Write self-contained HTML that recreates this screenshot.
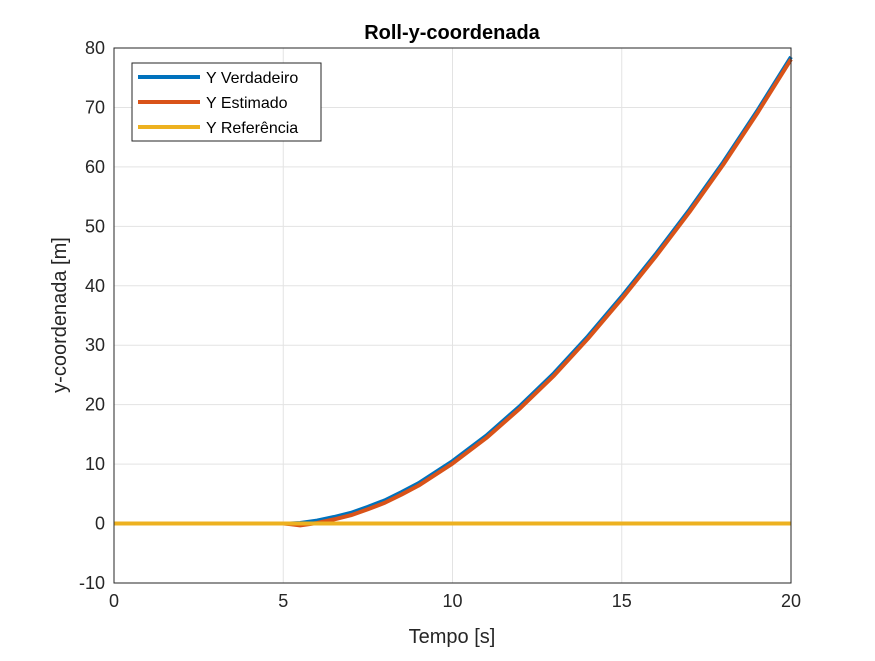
<!DOCTYPE html>
<html><head><meta charset="utf-8"><style>
body{margin:0;background:#fff;font-family:"Liberation Sans",Arial,sans-serif}
</style></head><body>
<svg width="875" height="656" viewBox="0 0 875 656" xmlns="http://www.w3.org/2000/svg">
<rect x="0" y="0" width="875" height="656" fill="#fff"/>
<g id="grid"></g>
<g id="series"></g>
<rect x="114" y="48" width="677" height="535" fill="none" stroke="#262626" stroke-width="1"/>
<g id="ticks" font-size="18" fill="#262626"></g>
<text x="452" y="39" text-anchor="middle" font-size="20" font-weight="bold" fill="#000">Roll-y-coordenada</text>
<text x="452" y="643" text-anchor="middle" font-size="20" fill="#262626">Tempo [s]</text>
<text transform="translate(66,315) rotate(-90)" text-anchor="middle" font-size="20" fill="#262626">y-coordenada [m]</text>
<g>
<rect x="132" y="63" width="189" height="78" fill="#fff" stroke="#262626" stroke-width="1"/>
<line x1="138" y1="77" x2="200" y2="77" stroke="#0072BD" stroke-width="4"/>
<text x="206" y="83" font-size="16" fill="#000">Y Verdadeiro</text>
<line x1="138" y1="102" x2="200" y2="102" stroke="#D95319" stroke-width="4"/>
<text x="206" y="108" font-size="16" fill="#000">Y Estimado</text>
<line x1="138" y1="127" x2="200" y2="127" stroke="#EDB120" stroke-width="4"/>
<text x="206" y="133" font-size="16" fill="#000">Y Referência</text>
</g>
</svg>
<script>
const xTicks=[0,5,10,15,20];
const yTicks=[-10,0,10,20,30,40,50,60,70,80];
const times=[0,5,5.2,5.5,6,6.5,7,7.5,8,8.5,9,10,11,12,13,14,15,16,17,18,19,20];
const yTrue=[0,0,0,0.1,0.5,1.1,1.8,2.8,3.9,5.3,6.8,10.5,14.8,19.8,25.3,31.5,38.2,45.3,52.8,60.8,69.4,78.5];
const yEst=[0,0,-0.1,-0.3,0.1,0.7,1.4,2.4,3.5,4.9,6.4,10.1,14.4,19.4,24.9,31.1,37.8,44.9,52.4,60.4,69.0,78.1];
const yRef=[0,0,0,0,0,0,0,0,0,0,0,0,0,0,0,0,0,0,0,0,0,0];
const X0=114,X1=791,Y0=583,Y1=48;
const sx=v=>X0+(v-0)/(20-0)*(X1-X0);
const sy=v=>Y0-(v+10)/90*(Y0-Y1);
const NS="http://www.w3.org/2000/svg";
const grid=document.getElementById('grid'),ticks=document.getElementById('ticks'),series=document.getElementById('series');
xTicks.forEach(t=>{
 const l=document.createElementNS(NS,'line');
 l.setAttribute('x1',sx(t));l.setAttribute('x2',sx(t));l.setAttribute('y1',Y1);l.setAttribute('y2',Y0);
 l.setAttribute('stroke','#e3e3e3');
 
 
 grid.appendChild(l);
 const tx=document.createElementNS(NS,'text');
 tx.setAttribute('x',sx(t));tx.setAttribute('y',Y0+24);tx.setAttribute('text-anchor','middle');
 tx.textContent=t;
 
 
 ticks.appendChild(tx);
});
yTicks.forEach(t=>{
 const l=document.createElementNS(NS,'line');
 l.setAttribute('x1',X0);l.setAttribute('x2',X1);l.setAttribute('y1',sy(t));l.setAttribute('y2',sy(t));
 l.setAttribute('stroke','#e3e3e3');
 
 
 grid.appendChild(l);
 const tx=document.createElementNS(NS,'text');
 tx.setAttribute('x',X0-9);tx.setAttribute('y',sy(t)+6);tx.setAttribute('text-anchor','end');
 tx.textContent=t;
 
 
 ticks.appendChild(tx);
});
function draw(vals,color,name){
 const p=document.createElementNS(NS,'polyline');
 p.setAttribute('points',times.map((t,i)=>sx(t)+','+sy(vals[i])).join(' '));
 p.setAttribute('fill','none');p.setAttribute('stroke',color);p.setAttribute('stroke-width','4');
 p.setAttribute('stroke-linejoin','round');
 
 
 series.appendChild(p);
}
draw(yTrue,'#0072BD','line-y-verdadeiro');
draw(yEst,'#D95319','line-y-estimado');
draw(yRef,'#EDB120','line-y-referencia');
</script>
</body></html>
